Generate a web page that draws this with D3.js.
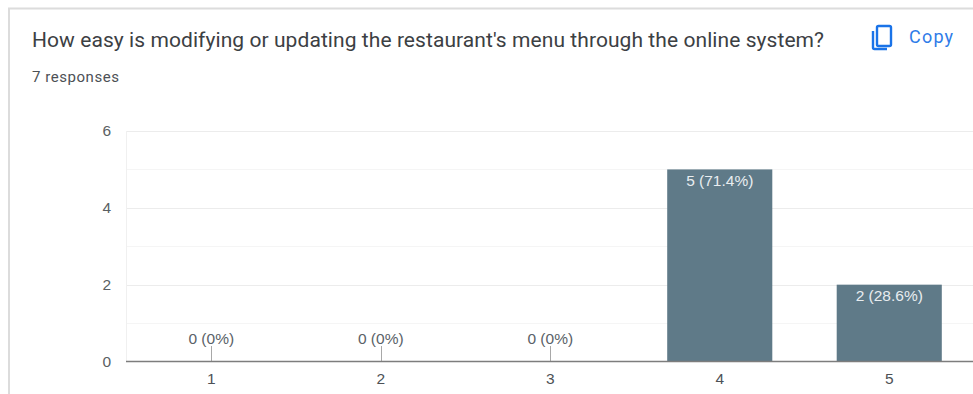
<!DOCTYPE html>
<html>
<head>
<meta charset="utf-8">
<script src="https://cdnjs.cloudflare.com/ajax/libs/d3/7.8.5/d3.min.js"></script>
<style>
html,body{margin:0;padding:0;background:#fff;overflow:hidden}
svg{display:block}
text{font-family:Roboto,Arial,sans-serif}
</style>
</head>
<body>
<svg id="chart" width="973" height="394"></svg>
<script>
const questionTitle = "How easy is modifying or updating the restaurant's menu through the online system?";
const responseNote = "7 responses";
const copyLabel = "Copy";
const categories = ["1", "2", "3", "4", "5"];
const counts = [0, 0, 0, 5, 2];
const valueLabels = ["0 (0%)", "0 (0%)", "0 (0%)", "5 (71.4%)", "2 (28.6%)"];
const majorTicks = [0, 2, 4, 6];
const gridTicks = [1, 2, 3, 4, 5, 6];
const chartFont = "'Liberation Sans',Arial,sans-serif";

const svg = d3.select("#chart");

// Card outline: only the top and left edges fall inside the frame
svg.append("path")
  .attr("d", "M9,394V8.5H973")
  .attr("fill", "none")
  .attr("stroke", "#dcdcdc")
  .attr("stroke-width", 2);

svg.append("text").attr("x", 32).attr("y", 47)
  .attr("font-size", 21).attr("letter-spacing", 0.07).attr("fill", "#3c4043")
  .text(questionTitle);

svg.append("text").attr("x", 32).attr("y", 82)
  .attr("font-size", 15).attr("letter-spacing", 0.55).attr("fill", "#4d5156")
  .text(responseNote);

// Copy button: two overlapping page outlines and its label
const copyIcon = svg.append("g").attr("fill", "none").attr("stroke", "#1a73e8")
  .attr("stroke-width", 2.4);
copyIcon.append("rect").attr("x", 877).attr("y", 26).attr("width", 14).attr("height", 20).attr("rx", 1.5);
copyIcon.append("path").attr("d", "M873,31V47.5Q873,49 874.5,49H887");
svg.append("text").attr("x", 909).attr("y", 43)
  .attr("font-size", 18).attr("letter-spacing", 1.2).attr("fill", "#2f7ce8")
  .text(copyLabel);

const x = d3.scaleBand().domain(categories).range([126.5, 974]).paddingInner(0.38).paddingOuter(0.19);
const y = d3.scaleLinear().domain([0, 6]).range([361.5, 131]);

// Horizontal grid, darker at the labelled values
svg.append("g").selectAll("line").data(gridTicks).join("line")
  .attr("x1", 126).attr("x2", 973)
  .attr("y1", d => Math.round(y(d)) + 0.5).attr("y2", d => Math.round(y(d)) + 0.5)
  .attr("stroke", d => majorTicks.includes(d) ? "#ececec" : "#f5f5f5")
  .attr("stroke-width", 1);

svg.append("line").attr("x1", 126.5).attr("x2", 126.5).attr("y1", 131).attr("y2", 361)
  .attr("stroke", "#f0f0f0");

svg.append("g").selectAll("rect").data(counts).join("rect")
  .attr("x", (d, i) => x(categories[i]))
  .attr("width", x.bandwidth())
  .attr("y", d => y(d))
  .attr("height", d => y(0) - y(d))
  .attr("fill", "#5f7a88");

// Leader ticks above the empty categories
svg.append("g").selectAll("line").data(counts.map((d, i) => ({d, c: categories[i]})).filter(e => e.d === 0)).join("line")
  .attr("x1", e => Math.round(x(e.c) + x.bandwidth() / 2) + 0.5)
  .attr("x2", e => Math.round(x(e.c) + x.bandwidth() / 2) + 0.5)
  .attr("y1", 346).attr("y2", 361)
  .attr("stroke", "#a8a8a8");

// Baseline
svg.append("line").attr("x1", 126).attr("x2", 973).attr("y1", 361.5).attr("y2", 361.5)
  .attr("stroke", "#7d7d7d").attr("stroke-width", 1.4);

// Value labels: inside the bar when it has height, otherwise above the baseline
svg.append("g").selectAll("text").data(counts).join("text")
  .attr("x", (d, i) => x(categories[i]) + x.bandwidth() / 2)
  .attr("y", d => d > 0 ? y(d) + 16.5 : y(d) - 18)
  .attr("text-anchor", "middle")
  .attr("font-size", 15.5)
  .style("font-family", chartFont)
  .attr("fill", d => d > 0 ? "#e8edf0" : "#5a6268")
  .text((d, i) => valueLabels[i]);

// Axis labels
const yAxis = d3.axisLeft(y).tickValues(majorTicks).tickFormat(d3.format("d")).tickSize(0).tickPadding(15);
const yg = svg.append("g").attr("transform", "translate(126,0)").call(yAxis);
yg.select(".domain").remove();
yg.selectAll("text").attr("font-size", 15.5).attr("fill", "#5a5f63").style("font-family", chartFont);

const xAxis = d3.axisBottom(x).tickSize(0).tickPadding(11);
const xg = svg.append("g").attr("transform", "translate(0,362)").call(xAxis);
xg.select(".domain").remove();
xg.selectAll("text").attr("font-size", 15.5).attr("fill", "#4d5156").style("font-family", chartFont);
</script>
</body>
</html>
